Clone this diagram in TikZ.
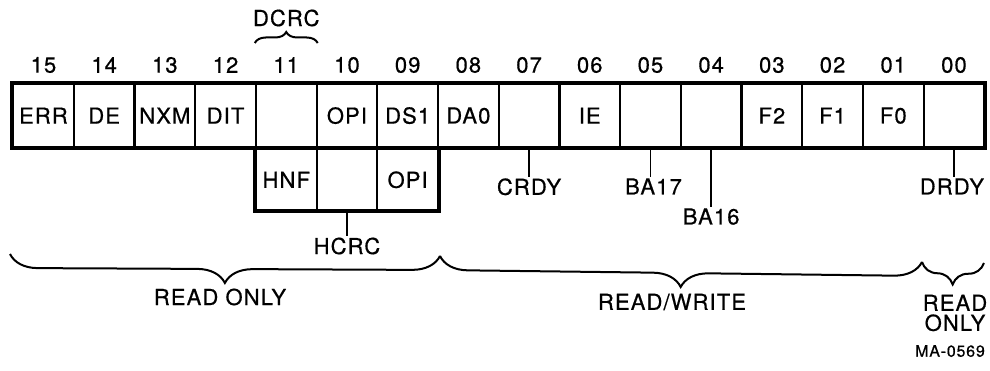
\documentclass[tikz,border=0pt]{standalone}
\usepackage{fontspec}
\setmainfont{TeX Gyre Heros}[LetterSpace=5,FakeBold=0.6]
\usetikzlibrary{positioning,calc,decorations.pathreplacing}

\begin{document}
\begin{tikzpicture}[x=1pt,y=-1pt,font=\fontsize{22}{24}\selectfont,
  bitcell/.style={draw,line width=2.2pt,minimum width=60.7pt,minimum height=63pt,
    inner sep=0pt,anchor=north west},
  lowcell/.style={draw,line width=2.2pt,minimum width=60.7pt,minimum height=61pt,
    inner sep=0pt,anchor=north},
  bitnum/.style={inner sep=0pt},
  tag/.style={inner sep=1pt},
  lead/.style={line width=1.8pt},
  fieldbrace/.style={decorate,line width=2pt,decoration={brace,amplitude=#1}}]
  \useasboundingbox (0,0) rectangle (990,371);
  % register cells
  \foreach \n/\lab [count=\i from 0] in {15/ERR,14/DE,13/NXM,12/DIT,11/,10/OPI,09/DS1,08/DA0,
      07/,06/IE,05/,04/,03/F2,02/F1,01/F0,00/} {
    \node[bitcell] (c\n) at ({12+60.7*\i},83) {\lab};
    \node[bitnum] (n\n) at ($(c\n.north)+(0,-18)$) {\n};
  }
  \draw[line width=3.2pt] (c15.north west) rectangle (c00.south east);
  % second row under bits 11-09
  \node[lowcell] (h11) at (c11.south) {HNF};
  \node[lowcell] (h10) at (c10.south) {};
  \node[lowcell] (h09) at (c09.south) {OPI};
  \draw[line width=3.2pt] (h11.north west) rectangle (h09.south east);
  % DCRC brace
  \coordinate (dc-l) at ($(c11.north west)+(0,-40)$);
  \coordinate (dc-r) at ($(c11.north east)+(0,-40)$);
  \draw[fieldbrace=11pt] (dc-l) -- (dc-r);
  \node[tag] (dcrc) at ($(c11.north)+(0,-65)$) {DCRC};
  % leader labels
  \node[tag,anchor=north] (crdy) at ($(c07.south)+(0,29)$) {CRDY};
  \node[tag,anchor=north] (ba17) at ($(c05.south)+(3,29)$) {BA17};
  \node[tag,anchor=north] (ba16) at ($(c04.south)+(0,59)$) {BA16};
  \node[tag,anchor=north] (drdy) at ($(c00.south)+(-2,29)$) {DRDY};
  \node[tag,anchor=north] (hcrc) at ($(h10.south)+(0,25)$) {HCRC};
  \draw[lead] (c07.south) -- (crdy.north -| c07.south);
  \draw[lead] (c05.south) -- (ba17.north -| c05.south);
  \draw[lead] (c04.south) -- (ba16.north -| c04.south);
  \draw[lead] (c00.south) -- (drdy.north -| c00.south);
  \draw[lead] (h10.south) -- (hcrc.north);
  % access braces
  \coordinate (ro-l) at (10,254);
  \coordinate (ro-r) at (440,256);
  \coordinate (rw-r) at (922,262);
  \coordinate (rx-r) at (984,263);
  \draw[fieldbrace=28pt] (ro-r) -- (ro-l);
  \draw[fieldbrace=28pt] (rw-r) -- (ro-r);
  \draw[fieldbrace=22pt] (rx-r) -- (rw-r);
  \node (ro) at (220,297) {READ ONLY};
  \node (rw) at (672,302) {READ/WRITE};
  \node[align=center,font=\fontsize{22}{20}\selectfont] (rx) at (955,313) {READ\\ONLY};
  \node[font=\fontsize{16}{18}\selectfont] (ma) at (950,351) {MA-0569};
\end{tikzpicture}
\end{document}
